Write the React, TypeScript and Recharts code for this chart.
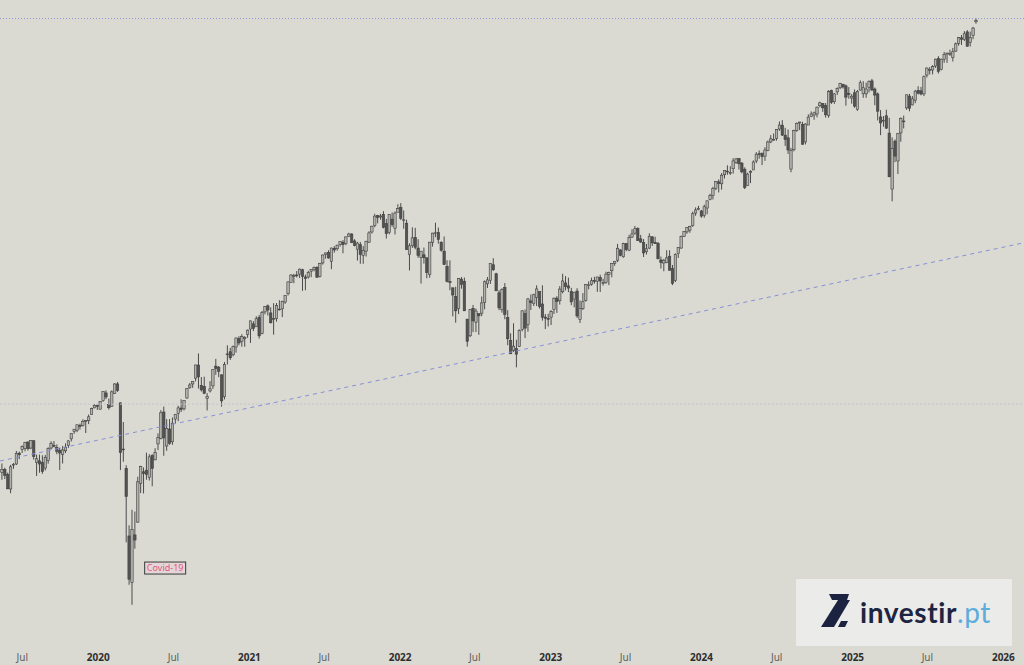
import { Bar, ComposedChart, ReferenceDot, ReferenceLine, XAxis, YAxis } from "recharts"

// weekly OHLC, S&P 500 — [open, high, low, close], one row per week (Monday)
type Ohlc = [number, number, number, number]

const firstWeek = "2019-05-13"

const w2019: Ohlc[] = [
  [2841, 2892, 2801, 2859], [2858, 2868, 2805, 2826], [2830, 2841, 2750, 2752], [2751, 2884, 2728, 2873],
  [2886, 2895, 2862, 2887], [2889, 2964, 2883, 2950], [2951, 2960, 2917, 2942], [2972, 2996, 2952, 2990],
  [2979, 3017, 2962, 3014], [3017, 3018, 2966, 2977], [2981, 3028, 2974, 3026], [3024, 3027, 2914, 2932],
  [2898, 2943, 2822, 2919], [2907, 2943, 2840, 2889], [2898, 2939, 2834, 2847], [2866, 2940, 2853, 2926],
  [2910, 2985, 2891, 2979], [2981, 3021, 2972, 3007], [2996, 3022, 2985, 2992], [2983, 3002, 2945, 2962],
  [2967, 2983, 2855, 2952], [2944, 2993, 2892, 2970], [2965, 3008, 2952, 2986], [2996, 3027, 2982, 3023],
  [3035, 3067, 3019, 3067], [3078, 3093, 3065, 3093], [3087, 3121, 3075, 3120], [3117, 3127, 3091, 3110],
  [3117, 3154, 3109, 3141], [3143, 3150, 3070, 3146], [3145, 3183, 3124, 3169], [3183, 3226, 3183, 3221],
  [3225, 3248, 3223, 3240], [3240, 3247, 3212, 3235],
]

const w2020: Ohlc[] = [
  [3217, 3268, 3213, 3265], [3271, 3330, 3264, 3330], [3321, 3338, 3281, 3295], [3248, 3285, 3214, 3226],
  [3235, 3337, 3234, 3328], [3318, 3385, 3315, 3380], [3380, 3393, 3328, 3338], [3257, 3260, 2855, 2954],
  [2975, 3137, 2902, 2972], [2864, 2882, 2478, 2711], [2509, 2562, 2280, 2305], [2291, 2641, 2192, 2541],
  [2514, 2632, 2447, 2489], [2578, 2818, 2575, 2790], [2782, 2879, 2729, 2875], [2845, 2870, 2727, 2837],
  [2854, 2954, 2801, 2831], [2815, 2945, 2797, 2930], [2937, 2945, 2766, 2864], [2913, 2980, 2910, 2955],
  [3005, 3068, 2969, 3044], [3038, 3211, 3032, 3194], [3199, 3233, 2936, 3041], [2993, 3155, 2965, 3098],
  [3094, 3155, 3000, 3009], [3018, 3165, 3000, 3130], [3155, 3186, 3127, 3185], [3191, 3238, 3142, 3225],
  [3224, 3280, 3199, 3216], [3219, 3273, 3209, 3271], [3288, 3352, 3284, 3351], [3356, 3387, 3348, 3373],
  [3380, 3399, 3354, 3397], [3419, 3509, 3397, 3508], [3508, 3588, 3350, 3427], [3370, 3426, 3330, 3341],
  [3364, 3428, 3313, 3319], [3285, 3320, 3209, 3298], [3334, 3399, 3324, 3348], [3367, 3479, 3347, 3477],
  [3500, 3550, 3441, 3484], [3493, 3501, 3425, 3465], [3441, 3443, 3233, 3270], [3296, 3529, 3279, 3510],
  [3584, 3646, 3511, 3585], [3600, 3628, 3543, 3558], [3579, 3644, 3568, 3638], [3634, 3701, 3594, 3699],
  [3694, 3712, 3646, 3663], [3675, 3726, 3636, 3709], [3693, 3712, 3636, 3703], [3723, 3760, 3700, 3756],
]

const w2021: Ohlc[] = [
  [3764, 3827, 3663, 3825], [3803, 3823, 3749, 3768], [3781, 3860, 3780, 3841], [3851, 3870, 3694, 3714],
  [3732, 3900, 3725, 3887], [3893, 3937, 3874, 3934], [3939, 3950, 3865, 3907], [3885, 3928, 3805, 3811],
  [3842, 3960, 3723, 3842], [3844, 3961, 3819, 3943], [3914, 3983, 3904, 3913], [3916, 3978, 3853, 3975],
  [3969, 4021, 3955, 4020], [4034, 4131, 4020, 4129], [4124, 4191, 4124, 4185], [4179, 4195, 4118, 4180],
  [4185, 4218, 4165, 4181], [4192, 4238, 4160, 4233], [4228, 4236, 4057, 4174], [4169, 4188, 4062, 4156],
  [4168, 4219, 4155, 4204], [4216, 4234, 4167, 4230], [4229, 4255, 4215, 4247], [4248, 4257, 4165, 4166],
  [4173, 4286, 4165, 4281], [4285, 4356, 4271, 4352], [4356, 4372, 4321, 4370], [4372, 4393, 4321, 4327],
  [4297, 4415, 4233, 4412], [4410, 4429, 4372, 4395], [4406, 4441, 4389, 4437], [4442, 4468, 4424, 4468],
  [4462, 4482, 4367, 4441], [4450, 4513, 4436, 4509], [4514, 4546, 4513, 4535], [4535, 4542, 4456, 4459],
  [4474, 4489, 4427, 4433], [4402, 4466, 4305, 4455], [4442, 4465, 4278, 4357], [4348, 4429, 4278, 4391],
  [4385, 4475, 4339, 4471], [4463, 4560, 4456, 4545], [4553, 4608, 4539, 4605], [4610, 4718, 4595, 4697],
  [4701, 4708, 4631, 4683], [4689, 4718, 4663, 4698], [4712, 4743, 4585, 4595], [4628, 4672, 4495, 4538],
  [4548, 4713, 4532, 4712], [4669, 4731, 4600, 4620], [4587, 4740, 4531, 4725], [4733, 4808, 4733, 4766],
]

const w2022: Ohlc[] = [
  [4778, 4818, 4662, 4677], [4655, 4749, 4582, 4663], [4632, 4664, 4395, 4398], [4356, 4453, 4222, 4432],
  [4432, 4595, 4413, 4501], [4505, 4590, 4401, 4419], [4412, 4489, 4328, 4349], [4332, 4385, 4115, 4385],
  [4354, 4416, 4279, 4329], [4328, 4332, 4158, 4204], [4188, 4465, 4162, 4463], [4462, 4546, 4424, 4543],
  [4541, 4637, 4507, 4546], [4547, 4593, 4450, 4488], [4462, 4471, 4381, 4393], [4385, 4513, 4267, 4272],
  [4256, 4308, 4124, 4132], [4131, 4307, 4062, 4123], [4081, 4081, 3859, 4024], [4013, 4090, 3811, 3901],
  [3920, 4158, 3876, 4158], [4151, 4168, 4074, 4109], [4134, 4164, 3900, 3901], [3838, 3838, 3637, 3675],
  [3715, 3913, 3705, 3912], [3920, 3946, 3741, 3825], [3815, 3918, 3742, 3899], [3880, 3880, 3722, 3863],
  [3883, 4012, 3860, 3962], [3965, 4140, 3913, 4130], [4113, 4168, 4080, 4145], [4142, 4281, 4112, 4280],
  [4270, 4325, 4218, 4228], [4195, 4203, 4057, 4057], [4041, 4062, 3906, 3924], [3909, 4077, 3887, 4067],
  [4084, 4119, 3837, 3873], [3849, 3906, 3647, 3693], [3682, 3733, 3584, 3586], [3610, 3807, 3599, 3640],
  [3622, 3686, 3492, 3583], [3638, 3762, 3634, 3753], [3762, 3905, 3747, 3901], [3881, 3911, 3698, 3771],
  [3799, 4001, 3745, 3993], [3977, 4028, 3907, 3965], [3956, 4034, 3938, 4026], [4005, 4101, 3938, 4072],
  [4052, 4052, 3919, 3934], [3954, 4101, 3827, 3852], [3854, 3877, 3764, 3845], [3843, 3878, 3783, 3840],
]

const w2023: Ohlc[] = [
  [3853, 3906, 3794, 3895], [3911, 4004, 3877, 3999], [3999, 4015, 3885, 3973], [3979, 4095, 3949, 4071],
  [4050, 4195, 4037, 4136], [4120, 4176, 4061, 4090], [4097, 4163, 4047, 4079], [4053, 4081, 3944, 3970],
  [3992, 4049, 3928, 4046], [4055, 4078, 3847, 3862], [3835, 3981, 3809, 3917], [3917, 4039, 3908, 3971],
  [3982, 4110, 3971, 4109], [4102, 4133, 4069, 4105], [4110, 4163, 4098, 4138], [4140, 4170, 4114, 4133],
  [4134, 4170, 4049, 4169], [4166, 4187, 4048, 4136], [4124, 4154, 4099, 4124], [4126, 4212, 4113, 4192],
  [4190, 4212, 4103, 4205], [4220, 4283, 4166, 4282], [4282, 4299, 4261, 4299], [4308, 4448, 4292, 4410],
  [4396, 4401, 4341, 4348], [4337, 4458, 4329, 4450], [4450, 4456, 4385, 4399], [4394, 4528, 4385, 4505],
  [4508, 4578, 4500, 4536], [4543, 4607, 4528, 4582], [4585, 4594, 4474, 4478], [4492, 4527, 4458, 4464],
  [4459, 4490, 4335, 4370], [4380, 4448, 4356, 4406], [4412, 4541, 4403, 4515], [4510, 4516, 4430, 4457],
  [4461, 4511, 4448, 4450], [4453, 4465, 4316, 4320], [4310, 4339, 4238, 4288], [4284, 4319, 4216, 4308],
  [4290, 4393, 4283, 4328], [4342, 4393, 4223, 4224], [4238, 4268, 4103, 4117], [4140, 4366, 4127, 4358],
  [4365, 4418, 4327, 4415], [4412, 4521, 4405, 4514], [4514, 4560, 4510, 4559], [4554, 4597, 4537, 4595],
  [4569, 4609, 4546, 4604], [4610, 4738, 4599, 4719], [4725, 4778, 4700, 4754], [4759, 4793, 4751, 4770],
]

const w2024: Ohlc[] = [
  [4745, 4754, 4682, 4697], [4703, 4803, 4682, 4784], [4772, 4842, 4714, 4840], [4853, 4907, 4845, 4891],
  [4892, 4975, 4853, 4959], [4957, 5030, 4942, 5027], [5023, 5048, 4920, 5006], [5004, 5111, 4947, 5089],
  [5094, 5141, 5057, 5137], [5130, 5189, 5094, 5124], [5111, 5180, 5092, 5117], [5154, 5262, 5105, 5234],
  [5219, 5265, 5203, 5254], [5258, 5264, 5146, 5204], [5211, 5222, 5107, 5123], [5149, 5168, 4953, 4967],
  [4988, 5114, 4986, 5100], [5115, 5139, 5011, 5128], [5142, 5239, 5142, 5223], [5233, 5325, 5211, 5303],
  [5308, 5342, 5256, 5305], [5315, 5315, 5191, 5278], [5283, 5376, 5234, 5347], [5341, 5447, 5334, 5432],
  [5432, 5505, 5420, 5465], [5459, 5523, 5447, 5460], [5471, 5570, 5446, 5567], [5572, 5655, 5551, 5615],
  [5614, 5669, 5497, 5505], [5505, 5585, 5390, 5459], [5476, 5566, 5306, 5347], [5151, 5370, 5119, 5344],
  [5350, 5563, 5333, 5554], [5557, 5643, 5540, 5634], [5638, 5651, 5560, 5648], [5623, 5651, 5402, 5408],
  [5432, 5636, 5406, 5626], [5615, 5733, 5615, 5703], [5711, 5767, 5703, 5738], [5726, 5765, 5674, 5751],
  [5738, 5822, 5701, 5815], [5832, 5878, 5813, 5865], [5857, 5862, 5762, 5808], [5833, 5863, 5697, 5729],
  [5723, 6013, 5696, 5996], [6009, 6018, 5853, 5871], [5878, 5980, 5853, 5969], [5992, 6045, 5957, 6032],
  [6041, 6099, 6024, 6090], [6083, 6085, 6031, 6051], [6063, 6079, 5832, 5931], [5974, 6049, 5912, 5971],
  [5920, 5966, 5855, 5942],
]

const w2025: Ohlc[] = [
  [5982, 6021, 5809, 5827], [5788, 6014, 5774, 5997], [6014, 6128, 6007, 6101], [5970, 6120, 5923, 6041],
  [5969, 6101, 5923, 6026], [6046, 6128, 5986, 6115], [6123, 6147, 6009, 6013], [6026, 6043, 5837, 5955],
  [5968, 5986, 5666, 5770], [5705, 5782, 5505, 5639], [5659, 5715, 5597, 5668], [5718, 5786, 5572, 5581],
  [5527, 5695, 5069, 5074], [4953, 5481, 4835, 5363], [5441, 5459, 5221, 5283], [5233, 5528, 5101, 5525],
  [5529, 5700, 5434, 5687], [5658, 5720, 5578, 5660], [5807, 5959, 5786, 5958], [5944, 5969, 5768, 5803],
  [5841, 5944, 5836, 5912], [5896, 6016, 5861, 6000], [6009, 6059, 5963, 5977], [6005, 6051, 5952, 5967],
  [5969, 6188, 5943, 6173], [6193, 6285, 6163, 6279], [6255, 6291, 6201, 6260], [6255, 6315, 6201, 6297],
  [6304, 6395, 6281, 6389], [6397, 6427, 6212, 6238], [6260, 6395, 6250, 6389], [6389, 6481, 6344, 6450],
  [6455, 6467, 6343, 6467], [6457, 6509, 6430, 6460], [6410, 6532, 6360, 6482], [6490, 6601, 6483, 6584],
  [6590, 6672, 6560, 6664], [6662, 6699, 6570, 6644], [6640, 6750, 6620, 6716], [6740, 6764, 6550, 6553],
  [6600, 6744, 6550, 6664], [6690, 6807, 6645, 6791], [6875, 6920, 6850, 6890],
]

// axis
const tickDates = [
  "2019-07-01", "2020-01-01", "2020-07-01", "2021-01-01", "2021-07-01", "2022-01-01", "2022-07-01",
  "2023-01-01", "2023-07-01", "2024-01-01", "2024-07-01", "2025-01-01", "2025-07-01", "2026-01-01",
]
const tickLabels = ["Jul", "2020", "Jul", "2021", "Jul", "2022", "Jul", "2023", "Jul", "2024", "Jul", "2025", "Jul", "2026"]

// drawn levels
const viewStart = "2019-05-08"
const viewEnd = "2026-02-20"
const athLevel = 6919
const preCovidLevel = 3249
const trendFrom = 2906
const trendTo = 4458
const covidNote = { date: "2020-06-11", value: 2356, text: "Covid-19" }

const day = (iso: string) => Date.parse(iso + "T00:00:00Z") / 86400000

const rows = [...w2019, ...w2020, ...w2021, ...w2022, ...w2023, ...w2024, ...w2025].map(([o, h, l, c], i) => ({
  t: day(firstWeek) + i * 7,
  o,
  h,
  l,
  c,
  range: [l, h],
}))

const tickDays = tickDates.map(day)

function Candle(props: any) {
  const { x, y, width, height, payload } = props
  if (!payload || !Number.isFinite(y)) return null
  const { o, h, l, c } = payload
  const cx = x + width / 2
  const span = Math.log(h) - Math.log(l)
  const py = (v: number) => (span > 0 ? y + ((Math.log(h) - Math.log(v)) / span) * height : y)
  const top = py(Math.max(o, c))
  const bot = py(Math.min(o, c))
  const up = c >= o
  return (
    <g>
      <line x1={cx} x2={cx} y1={y} y2={y + height} stroke="#4b4b4b" strokeWidth={1} />
      <rect
        x={cx - 1.2}
        y={top}
        width={2.4}
        height={Math.max(bot - top, 0.8)}
        fill={up ? "#b3b3ae" : "#535353"}
        stroke="#3e3e3e"
        strokeWidth={0.6}
      />
    </g>
  )
}

function AxisTick(props: any) {
  const { x, payload } = props
  const label = tickLabels[tickDays.indexOf(payload.value)]
  const isYear = label !== "Jul"
  return (
    <text
      x={x}
      y={661}
      textAnchor="middle"
      fontSize={10}
      fontFamily="Noto Sans, sans-serif"
      fontWeight={isYear ? 700 : 400}
      fill={isYear ? "#2e2e2e" : "#5e5e5e"}
    >
      {label}
    </text>
  )
}

function NoteBox(props: any) {
  const { cx, cy } = props
  return (
    <g>
      <rect x={cx - 20.5} y={cy - 6} width={41} height={12} fill="#e4d6d8" stroke="#3a3a3a" strokeWidth={1} />
      <text x={cx} y={cy + 3.2} textAnchor="middle" fontSize={9} fontFamily="Noto Sans, sans-serif" fill="#e0577c">
        {covidNote.text}
      </text>
    </g>
  )
}

export default function App() {
  const x0 = day(viewStart)
  const x1 = day(viewEnd)
  return (
    <div
      style={{
        position: "fixed",
        left: 0,
        top: 0,
        width: 1024,
        height: 665,
        background: "#dadad3",
        overflow: "hidden",
      }}
    >
      <ComposedChart width={1024} height={665} data={rows} margin={{ top: 0, right: 0, bottom: 0, left: 0 }}>
        <XAxis
          dataKey="t"
          type="number"
          domain={[x0, x1]}
          allowDataOverflow
          ticks={tickDays}
          interval={0}
          axisLine={false}
          tickLine={false}
          height={25}
          tick={<AxisTick />}
        />
        <YAxis hide scale="log" domain={[2046, 7175]} allowDataOverflow />
        <ReferenceLine y={athLevel} stroke="#8e98dc" strokeDasharray="1 2" strokeWidth={1} />
        <ReferenceLine y={preCovidLevel} stroke="#c5c5cc" strokeDasharray="2 2" strokeWidth={1} />
        <ReferenceLine
          segment={[
            { x: x0, y: trendFrom },
            { x: x1, y: trendTo },
          ]}
          stroke="#8790d6"
          strokeDasharray="4 4"
          strokeWidth={1}
        />
        <Bar dataKey="range" barSize={3} shape={<Candle />} isAnimationActive={false} />
        <ReferenceDot x={day(covidNote.date)} y={covidNote.value} r={0} shape={<NoteBox />} />
      </ComposedChart>
      <div style={{ position: "absolute", left: 796, top: 579, width: 216, height: 67, background: "#ebebe9" }}>
        <svg width={216} height={67}>
          <polygon points="33,15 53,15 51,21 36,21" fill="#1c2340" />
          <polygon points="42,21 54,21 38,48 25,48" fill="#1c2340" />
          <polygon points="45,42 52,42 49,48 42,48" fill="#1c2340" />
          <text
            x={64}
            y={44}
            fontSize={28}
            letterSpacing={0.6}
            fontFamily="Lato, Noto Sans, sans-serif"
            fontWeight={700}
            fill="#1e2542"
          >
            investir
            <tspan fill="#5cacdc" fontWeight={400}>
              .pt
            </tspan>
          </text>
        </svg>
      </div>
    </div>
  )
}
